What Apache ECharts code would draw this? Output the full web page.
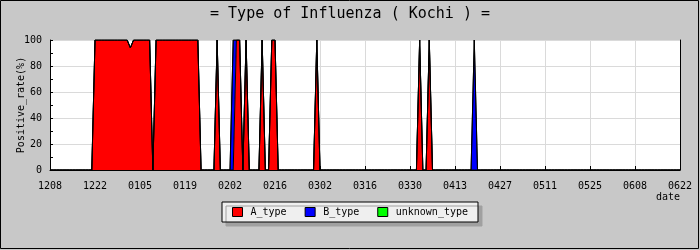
<!DOCTYPE html>
<html>
<head>
<meta charset="utf-8">
<script src="https://cdn.jsdelivr.net/npm/echarts@6/dist/echarts.min.js"></script>
<style>
html,body{margin:0;padding:0;background:#c8c8c8;}
#chart{width:700px;height:250px;}
</style>
</head>
<body>
<div id="chart"></div>
<script>
// Daily categories 2013-12-08 .. 2014-06-22 (MMDD)
const startDate = Date.UTC(2013, 11, 8);
const dayCount = 197;
const categories = [];
for (let i = 0; i < dayCount; i++) {
  const d = new Date(startDate + i * 86400000);
  categories.push(String(d.getUTCMonth() + 1).padStart(2, '0') + String(d.getUTCDate()).padStart(2, '0'));
}
const tickLabels = ['1208','1222','0105','0119','0202','0216','0302','0316','0330','0413','0427','0511','0525','0608','0622'];
const yTicks = [0, 20, 40, 60, 80, 100];

// Positive rate (%), one value per day
const aType = [
  0,0,0,0,0,0,0,0,0,0,0,0,0,0,
  100,100,100,100,100,100,100,100,100,100,100,94,100,100,
  100,100,100,100,0,100,100,100,100,100,100,100,100,100,
  100,100,100,100,100,0,0,0,0,0,100,0,0,0,
  0,0,100,100,0,100,0,0,0,0,100,0,0,100,
  100,0,0,0,0,0,0,0,0,0,0,0,0,100,
  0,0,0,0,0,0,0,0,0,0,0,0,0,0,
  0,0,0,0,0,0,0,0,0,0,0,0,0,0,
  0,0,0,100,0,0,100,0,0,0,0,0,0,0,
  0,0,0,0,0,0,0,0,0,0,0,0,0,0,
  0,0,0,0,0,0,0,0,0,0,0,0,0,0,
  0,0,0,0,0,0,0,0,0,0,0,0,0,0,
  0,0,0,0,0,0,0,0,0,0,0,0,0,0,
  0,0,0,0,0,0,0,0,0,0,0,0,0,0,
  0
];
const bType = [
  0,0,0,0,0,0,0,0,0,0,0,0,0,0,
  0,0,0,0,0,0,0,0,0,0,0,0,0,0,
  0,0,0,0,0,0,0,0,0,0,0,0,0,0,
  0,0,0,0,0,0,0,0,0,0,0,0,0,0,
  0,100,0,0,0,0,0,0,0,0,0,0,0,0,
  0,0,0,0,0,0,0,0,0,0,0,0,0,0,
  0,0,0,0,0,0,0,0,0,0,0,0,0,0,
  0,0,0,0,0,0,0,0,0,0,0,0,0,0,
  0,0,0,0,0,0,0,0,0,0,0,0,0,0,
  0,0,0,0,0,0,100,0,0,0,0,0,0,0,
  0,0,0,0,0,0,0,0,0,0,0,0,0,0,
  0,0,0,0,0,0,0,0,0,0,0,0,0,0,
  0,0,0,0,0,0,0,0,0,0,0,0,0,0,
  0,0,0,0,0,0,0,0,0,0,0,0,0,0,
  0
];
const unknownType = [
  0,0,0,0,0,0,0,0,0,0,0,0,0,0,
  0,0,0,0,0,0,0,0,0,0,0,0,0,0,
  0,0,0,0,0,0,0,0,0,0,0,0,0,0,
  0,0,0,0,0,0,0,0,0,0,0,0,0,0,
  0,0,0,0,0,0,0,0,0,0,0,0,0,0,
  0,0,0,0,0,0,0,0,0,0,0,0,0,0,
  0,0,0,0,0,0,0,0,0,0,0,0,0,0,
  0,0,0,0,0,0,0,0,0,0,0,0,0,0,
  0,0,0,0,0,0,0,0,0,0,0,0,0,0,
  0,0,0,0,0,0,0,0,0,0,0,0,0,0,
  0,0,0,0,0,0,0,0,0,0,0,0,0,0,
  0,0,0,0,0,0,0,0,0,0,0,0,0,0,
  0,0,0,0,0,0,0,0,0,0,0,0,0,0,
  0,0,0,0,0,0,0,0,0,0,0,0,0,0,
  0
];

const FONT = 'DejaVu Sans Mono';
const chart = echarts.init(document.getElementById('chart'), null, {renderer: 'canvas'});

function mkSeries(name, data, color) {
  return {
    name: name,
    type: 'line',
    stack: 'total',
    data: data,
    showSymbol: false,
    symbol: 'none',
    smooth: false,
    itemStyle: {color: color},
    lineStyle: {color: '#000', width: 1},
    areaStyle: {color: color, opacity: 1},
    emphasis: {disabled: true},
    animation: false
  };
}

chart.setOption({
  animation: false,
  backgroundColor: '#c8c8c8',
  textStyle: {fontFamily: FONT, color: '#000'},
  title: {
    text: '= Type of Influenza ( Kochi ) =',
    left: 'center',
    top: 2,
    textStyle: {fontFamily: FONT, fontSize: 15, fontWeight: 'normal', color: '#000'}
  },
  legend: {
    data: ['A_type', 'B_type', 'unknown_type'],
    left: 'center',
    top: 202,
    icon: 'rect',
    itemWidth: 10,
    itemHeight: 9,
    itemGap: 18,
    padding: [5, 10, 5, 10],
    backgroundColor: '#efefef',
    borderColor: '#000',
    borderWidth: 1,
    shadowColor: '#a0a0a0',
    shadowBlur: 0,
    shadowOffsetX: 4,
    shadowOffsetY: 4,
    itemStyle: {borderColor: '#000', borderWidth: 1},
    textStyle: {fontFamily: FONT, fontSize: 10, color: '#000', padding: [0, 0, 0, 3]}
  },
  grid: {
    left: 50, right: 20, top: 40, bottom: 80,
    outerBoundsMode: 'none',
    containLabel: false,
    show: true, backgroundColor: '#fff', borderWidth: 0
  },
  xAxis: {
    type: 'category',
    data: categories,
    boundaryGap: false,
    name: 'date',
    nameLocation: 'end',
    nameGap: 0,
    nameMoveOverlap: false,
    nameTextStyle: {fontFamily: FONT, fontSize: 10, color: '#000', align: 'right', verticalAlign: 'top', padding: [22, 0, 0, 0]},
    axisLine: {show: true, lineStyle: {color: '#000', width: 1}},
    axisTick: {show: true, inside: true, length: 4, interval: (i, v) => tickLabels.includes(v), lineStyle: {color: '#000'}},
    axisLabel: {show: true, interval: (i, v) => tickLabels.includes(v), margin: 11, fontFamily: FONT, fontSize: 10, color: '#000', showMaxLabel: true, hideOverlap: false},
    splitLine: {show: true, interval: (i, v) => tickLabels.includes(v), lineStyle: {color: '#dadada', width: 1}}
  },
  yAxis: [{
    type: 'value',
    min: yTicks[0],
    max: yTicks[yTicks.length - 1],
    interval: 20,
    name: 'Positive_rate(%)',
    nameLocation: 'middle',
    nameGap: 24,
    nameRotate: 90,
    nameMoveOverlap: false,
    nameTextStyle: {fontFamily: FONT, fontSize: 10, color: '#000'},
    axisLine: {show: true, lineStyle: {color: '#000', width: 1}},
    axisTick: {show: true, inside: true, length: 3, lineStyle: {color: '#000'}},
    minorTick: {show: true, splitNumber: 2, length: 3, lineStyle: {color: '#000'}},
    axisLabel: {margin: 8, fontFamily: FONT, fontSize: 10, color: '#000'},
    splitLine: {show: true, lineStyle: {color: '#dadada', width: 1}}
  }, {
    type: 'value',
    position: 'right',
    min: 0, max: 100,
    axisLine: {show: true, lineStyle: {color: '#000', width: 1}},
    axisTick: {show: false},
    axisLabel: {show: false},
    splitLine: {show: false}
  }],
  graphic: [{
    type: 'rect',
    shape: {x: 0.5, y: 0.5, width: 698, height: 248},
    style: {fill: 'none', stroke: '#000', lineWidth: 1},
    silent: true,
    z: 100
  }],
  series: [
    mkSeries('A_type', aType, '#ff0000'),
    mkSeries('B_type', bType, '#0000ff'),
    mkSeries('unknown_type', unknownType, '#00ff00')
  ]
});
</script>
</body>
</html>
